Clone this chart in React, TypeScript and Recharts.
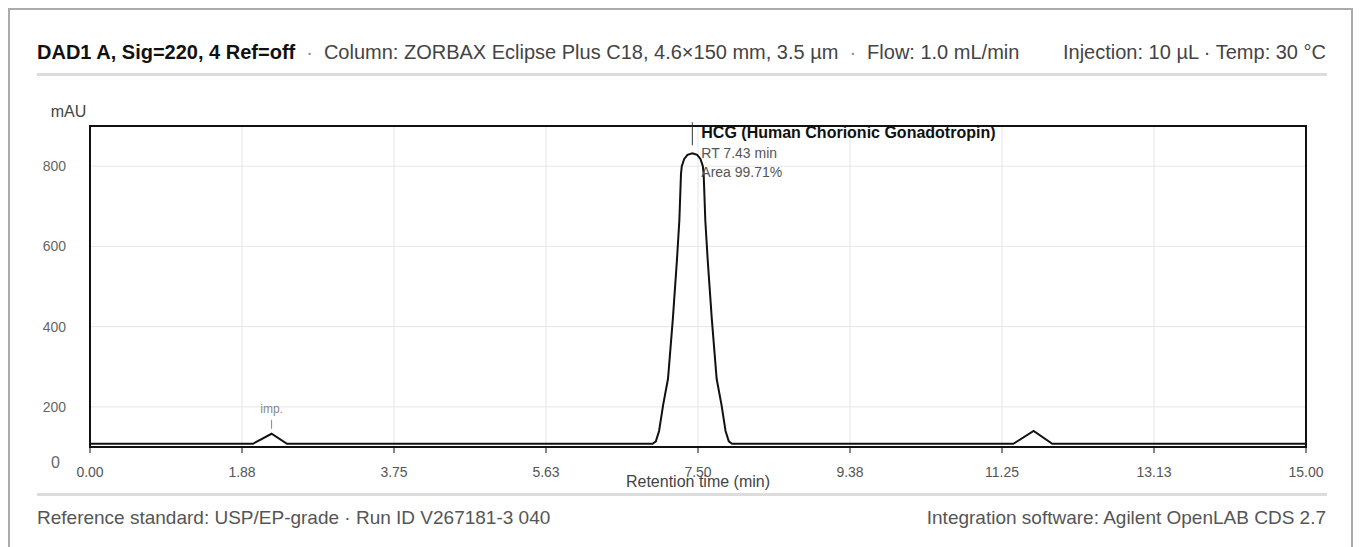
import { LineChart, Line, XAxis, YAxis, CartesianGrid, ReferenceArea, ReferenceDot } from 'recharts'

// retention time (min) and detector signal (mAU)
const TIMES = [
  0.0, 2.01, 2.24, 2.43, 6.94, 6.98, 7.02, 7.07, 7.13, 7.19, 7.24, 7.27, 7.29, 7.3, 7.33, 7.37, 7.43,
  7.49, 7.53, 7.56, 7.57, 7.59, 7.62, 7.67, 7.73, 7.79, 7.84, 7.88, 7.92, 11.39, 11.64, 11.87, 15.0
]
const SIGNAL = [
  108, 108, 133, 108, 108, 114, 140, 205, 270, 420, 565, 665, 780, 800, 818, 828, 832,
  828, 818, 800, 780, 665, 565, 420, 270, 205, 140, 114, 108, 108, 140, 108, 108
]

const X_TICKS = [0, 1.875, 3.75, 5.625, 7.5, 9.375, 11.25, 13.125, 15]
const Y_TICKS = [200, 400, 600, 800]

const MAIN_PEAK = { rt: 7.43, height: 832, name: 'HCG (Human Chorionic Gonadotropin)', area: '99.71%' }
const IMP_PEAK = { rt: 2.24, height: 133, name: 'imp.' }

const data = TIMES.map((t, i) => ({ t, mAU: SIGNAL[i] }))

const FONT = '"Liberation Sans", Arial, Helvetica, sans-serif'

function MainPeakLabel(props: any) {
  const { cx, cy } = props
  return (
    <g>
      <line x1={cx} y1={cy - 31} x2={cx} y2={cy - 8} stroke="#333" strokeWidth={1} />
      <text x={cx + 9} y={cy - 15} fontSize={16} fontWeight="bold" fill="#111">
        {MAIN_PEAK.name}
      </text>
      <text x={cx + 9} y={cy + 5} fontSize={14} fill="#555">
        RT {MAIN_PEAK.rt.toFixed(2)} min
      </text>
      <text x={cx + 9} y={cy + 24} fontSize={14} fill="#555">
        Area {MAIN_PEAK.area}
      </text>
    </g>
  )
}

function ImpLabel(props: any) {
  const { cx, cy } = props
  return (
    <g>
      <line x1={cx} y1={cy - 14} x2={cx} y2={cy - 5} stroke="#888" strokeWidth={1} />
      <text x={cx} y={cy - 21} fontSize={12} fill="#888" textAnchor="middle">
        {IMP_PEAK.name}
      </text>
    </g>
  )
}

export default function App() {
  return (
    <div
      style={{
        position: 'relative',
        width: 1345,
        height: 539,
        boxSizing: 'border-box',
        border: '2px solid #ababab',
        borderBottom: 'none',
        fontFamily: FONT,
        background: '#fff'
      }}
    >
      <div style={{ position: 'absolute', left: 27, top: 31, fontSize: 20, lineHeight: '22px', color: '#444', whiteSpace: 'nowrap' }}>
        <b style={{ color: '#111' }}>DAD1 A, Sig=220, 4 Ref=off</b>
        <span style={{ margin: '0 11px', color: '#888' }}>·</span>
        Column: ZORBAX Eclipse Plus C18, 4.6×150 mm, 3.5 µm
        <span style={{ margin: '0 11px', color: '#888' }}>·</span>
        Flow: 1.0 mL/min
      </div>
      <div style={{ position: 'absolute', right: 25, top: 31, fontSize: 20, lineHeight: '22px', color: '#444', whiteSpace: 'nowrap' }}>
        Injection: 10 µL · Temp: 30 °C
      </div>
      <div style={{ position: 'absolute', left: 27, top: 63, width: 1290, height: 3, background: '#dcdcdc' }} />

      <div style={{ position: 'absolute', left: 27, top: 70 }}>
        <LineChart width={1290} height={410} data={data} margin={{ top: 46, right: 21, bottom: 13, left: 0 }}>
          <CartesianGrid stroke="#e6e6e6" />
          <XAxis
            dataKey="t"
            type="number"
            domain={[0, 15]}
            ticks={X_TICKS}
            tickFormatter={(v: number) => v.toFixed(2)}
            height={30}
            axisLine={{ stroke: '#111', strokeWidth: 2 }}
            tickLine={{ stroke: '#111' }}
            tickSize={6}
            tickMargin={14}
            tick={{ fill: '#555', fontSize: 14 }}
            label={{ value: 'Retention time (min)', position: 'insideBottom', offset: 0, dy: 10, fill: '#444', fontSize: 16 }}
          />
          <YAxis
            type="number"
            domain={[100, 900]}
            ticks={Y_TICKS}
            width={53}
            axisLine={false}
            tickLine={false}
            tickSize={0}
            tickMargin={24}
            tick={{ fill: '#666', fontSize: 14 }}
            label={{ value: 'mAU', position: 'top', offset: 9, dx: 5, fill: '#444', fontSize: 16 }}
          />
          <ReferenceArea x1={0} x2={15} y1={100} y2={900} fill="none" stroke="#111" strokeWidth={2} />
          <Line type="linear" dataKey="mAU" stroke="#111" strokeWidth={2} dot={false} isAnimationActive={false} />
          <ReferenceDot x={IMP_PEAK.rt} y={IMP_PEAK.height} shape={ImpLabel} />
          <ReferenceDot x={MAIN_PEAK.rt} y={MAIN_PEAK.height} shape={MainPeakLabel} />
        </LineChart>
      </div>
      <div style={{ position: 'absolute', left: 41, top: 444, fontSize: 16, color: '#666' }}>0</div>

      <div style={{ position: 'absolute', left: 27, top: 483, width: 1290, height: 3, background: '#dcdcdc' }} />
      <div style={{ position: 'absolute', left: 27, top: 497, fontSize: 19, lineHeight: '22px', color: '#555', whiteSpace: 'nowrap' }}>
        Reference standard: USP/EP-grade · Run ID V267181-3 040
      </div>
      <div style={{ position: 'absolute', right: 25, top: 497, fontSize: 19, lineHeight: '22px', color: '#555', whiteSpace: 'nowrap' }}>
        Integration software: Agilent OpenLAB CDS 2.7
      </div>
    </div>
  )
}
